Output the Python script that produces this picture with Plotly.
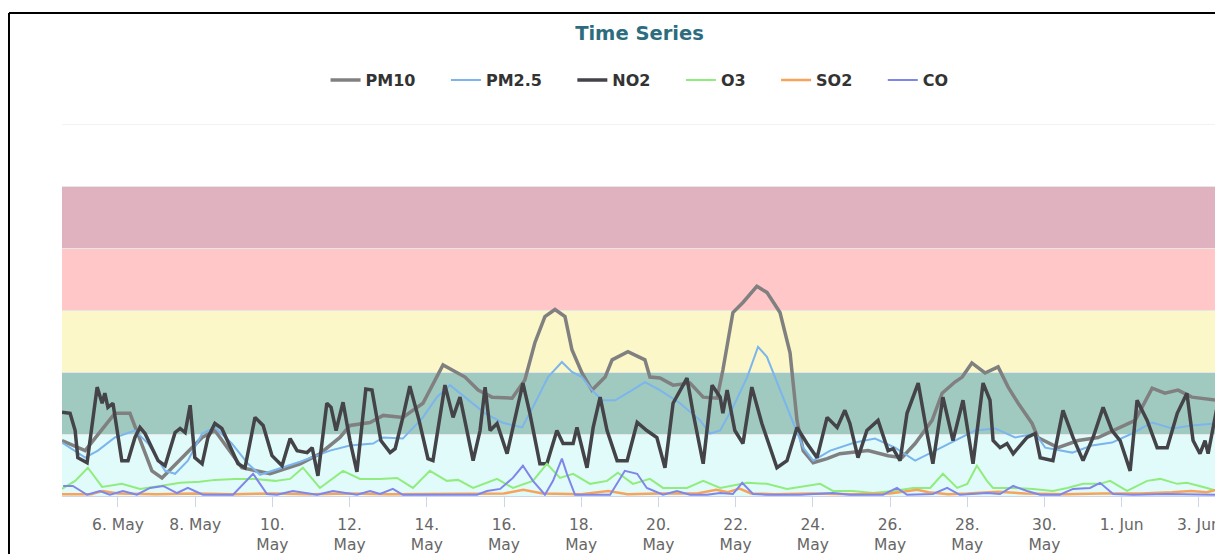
import pandas as pd
import plotly.graph_objects as go

# ---- data (time as decimal day-of-May; 32 = 1 Jun) ----
PM10_days = [4.55, 5.15, 5.92, 6.31, 6.88, 7.14, 8.18, 8.51, 9.21, 9.94, 10.72, 11.23, 11.75, 12.01, 12.53,
             12.87, 13.38, 13.90, 14.42, 14.99, 15.33, 15.69, 16.21, 16.54, 16.80, 17.06, 17.32, 17.58, 17.76,
             18.02, 18.28, 18.62, 18.80, 19.21, 19.65, 19.78, 20.04, 20.38, 20.82, 21.16, 21.52, 21.67, 21.93,
             22.19, 22.55, 22.81, 23.15, 23.41, 23.59, 23.75, 24.01, 24.37, 24.70, 25.43, 25.95, 26.31, 26.65,
             27.09, 27.35, 27.68, 27.87, 28.12, 28.46, 28.80, 29.06, 29.32, 29.68, 29.83, 30.35, 30.87, 31.39,
             31.91, 32.35, 32.79, 33.12, 33.46, 33.82, 34.47]
PM10_vals = [44.7, 36.6, 66.7, 66.7, 20.3, 14.6, 47.2, 52.8, 22.8, 17.9, 26.0, 34.1, 47.2, 56.9, 59.3,
             65.0, 63.4, 74.8, 105.7, 95.9, 85.4, 79.7, 78.9, 93.5, 123.6, 144.7, 150.4, 144.7, 117.9,
             99.2, 85.4, 95.9, 109.8, 116.3, 109.8, 95.9, 95.1, 89.4, 91.1, 79.7, 78.9, 101.6, 148.0,
             156.1, 169.1, 164.2, 148.0, 115.4, 61.0, 36.6, 26.8, 30.1, 34.1, 36.6, 32.5, 30.9, 42.3,
             61.0, 82.9, 91.9, 95.9, 107.3, 99.2, 104.1, 87.8, 74.8, 58.5, 47.2, 39.0, 44.7, 47.2,
             54.5, 61.0, 87.0, 82.9, 85.4, 79.7, 77.2]

PM25_days = [4.55, 5.15, 5.48, 5.92, 6.44, 6.78, 7.22, 7.48, 7.81, 8.18, 8.51, 8.95, 9.37, 9.68, 10.72,
             11.49, 12.01, 12.61, 12.87, 13.38, 13.90, 14.26, 14.60, 14.99, 15.51, 15.95, 16.47, 16.80,
             17.14, 17.50, 17.76, 18.02, 18.28, 18.54, 18.88, 19.32, 19.65, 20.04, 20.56, 21.08, 21.34,
             21.60, 21.93, 22.30, 22.58, 22.81, 23.15, 23.49, 23.75, 24.01, 24.45, 25.09, 25.61, 26.13,
             26.65, 27.17, 27.68, 28.20, 28.72, 29.24, 29.76, 30.02, 30.72, 31.23, 31.75, 32.27, 32.79,
             33.31, 33.82, 34.47]
PM25_vals = [43.1, 30.9, 36.6, 47.2, 52.8, 42.3, 20.3, 17.9, 28.5, 50.4, 55.3, 42.3, 26.0, 17.1, 27.6,
             36.6, 40.7, 42.3, 47.2, 46.3, 63.4, 79.7, 89.4, 79.7, 66.7, 59.3, 55.3, 74.8,
             95.9, 108.1, 100.0, 95.9, 85.4, 77.2, 77.2, 85.4, 91.9, 85.4, 74.8, 61.0, 50.4,
             52.8, 71.5, 95.9, 120.3, 112.2, 85.4, 58.5, 39.0, 28.5, 36.6, 43.1, 46.3, 39.0,
             28.5, 36.6, 44.7, 52.8, 54.5, 47.2, 50.4, 39.0, 35.0, 40.7, 43.1, 50.4, 59.3,
             54.5, 56.9, 58.5]

NO2_days = [4.55, 4.76, 4.89, 4.96, 5.20, 5.33, 5.46, 5.59, 5.66, 5.74, 5.87, 6.10, 6.26, 6.44, 6.57, 6.70,
            7.04, 7.22, 7.40, 7.48, 7.61, 7.74, 7.87, 7.99, 8.18, 8.33, 8.51, 8.69, 9.11, 9.29, 9.55, 9.76,
            9.99, 10.25, 10.46, 10.64, 10.90, 11.03, 11.18, 11.41, 11.52, 11.65, 11.83, 12.01, 12.19, 12.42,
            12.58, 12.81, 13.05, 13.18, 13.38, 13.56, 13.80, 14.03, 14.16, 14.47, 14.68, 14.86, 15.04, 15.20,
            15.38, 15.51, 15.64, 15.82, 16.08, 16.23, 16.49, 16.67, 16.93, 17.11, 17.37, 17.53, 17.79, 17.89,
            18.15, 18.31, 18.49, 18.67, 18.93, 19.19, 19.45, 19.70, 19.96, 20.17, 20.38, 20.74, 20.90, 21.16,
            21.39, 21.60, 21.67, 21.78, 21.98, 22.19, 22.42, 22.68, 23.07, 23.33, 23.59, 23.85, 24.11, 24.37,
            24.63, 24.83, 24.96, 25.17, 25.40, 25.69, 25.95, 26.08, 26.26, 26.44, 26.73, 26.96, 27.11, 27.37,
            27.63, 27.89, 28.15, 28.41, 28.59, 28.67, 28.85, 29.03, 29.19, 29.55, 29.76, 29.89, 30.22, 30.48,
            30.74, 31.00, 31.26, 31.52, 31.75, 31.96, 32.22, 32.40, 32.66, 32.92, 33.18, 33.44, 33.69, 33.85,
            34.03, 34.16, 34.24, 34.47]
NO2_vals = [67.5, 66.7, 52.8, 30.9, 26.8, 55.3, 87.8, 74.8, 82.9, 71.5, 74.8, 28.5, 28.5, 47.2, 55.3, 50.4,
            28.5, 24.4, 42.3, 51.2, 54.5, 51.2, 73.2, 30.9, 26.0, 47.2, 58.5, 54.5, 26.0, 22.8, 63.4, 56.9,
            32.5, 24.4, 46.3, 36.6, 35.0, 39.0, 16.3, 74.8, 71.5, 52.8, 75.6, 44.7, 19.5, 86.2,
            85.4, 44.7, 35.0, 38.2, 63.4, 88.6, 61.0, 30.1, 28.5, 89.4, 63.4, 79.7, 52.8, 28.5,
            52.8, 87.8, 52.8, 58.5, 34.1, 55.3, 91.1, 66.7, 26.0, 26.0, 52.8, 42.3, 42.3, 55.3,
            22.8, 55.3, 79.7, 52.8, 28.5, 28.5, 59.3, 52.8, 47.2, 22.8, 74.8, 95.1, 66.7, 26.0,
            89.4, 79.7, 66.7, 85.4, 52.8, 42.3, 87.8, 58.5, 22.8, 28.5, 55.3, 42.3, 30.9, 63.4,
            55.3, 69.1, 58.5, 30.9, 52.8, 61.0, 36.6, 38.2, 28.5, 66.7, 91.1, 50.4, 26.0, 79.7,
            44.7, 77.2, 26.0, 91.1, 77.2, 44.7, 39.0, 42.3, 34.1, 47.2, 50.4, 30.9, 28.5, 69.1,
            47.2, 28.5, 47.2, 71.5, 52.8, 44.7, 20.3, 77.2, 61.0, 39.0, 39.0, 66.7, 82.9, 44.7,
            34.1, 44.7, 34.1, 71.5]

O3_days = [4.55, 4.89, 5.22, 5.59, 6.10, 6.57, 7.09, 7.61, 8.12, 8.51, 9.03, 9.55, 10.07, 10.46, 10.79,
           11.23, 11.83, 12.27, 12.79, 13.23, 13.64, 14.08, 14.52, 14.81, 15.20, 15.82, 16.23, 16.75, 17.11,
           17.45, 17.79, 18.23, 18.67, 18.95, 19.34, 19.78, 20.12, 20.74, 21.16, 21.60, 22.30, 22.81, 23.33,
           23.85, 24.19, 24.52, 25.04, 25.56, 26.08, 26.60, 27.04, 27.37, 27.74, 28.00, 28.25, 28.51, 28.67,
           29.19, 29.70, 30.22, 30.59, 31.00, 31.44, 31.70, 32.14, 32.66, 33.00, 33.44, 33.69, 34.21, 34.47]
O3_vals = [5.7, 12.2, 22.8, 7.3, 9.8, 5.7, 8.1, 10.6, 11.4, 13.0, 13.8, 13.8, 12.2, 13.8, 22.8,
           6.5, 20.3, 13.8, 13.8, 14.6, 6.5, 20.3, 12.2, 13.0, 6.5, 13.8, 6.5, 12.2, 26.0,
           14.6, 17.9, 9.8, 12.2, 18.7, 9.8, 13.8, 6.5, 6.5, 12.2, 6.5, 10.6, 9.8, 5.7,
           8.1, 9.8, 4.1, 4.1, 2.4, 4.1, 6.5, 6.5, 17.9, 6.5, 9.8, 24.4, 12.2, 6.5,
           6.5, 5.7, 4.1, 6.5, 9.8, 9.8, 12.2, 4.1, 12.2, 13.8, 9.8, 10.6, 6.5, 4.1]

SO2_days = [4.55, 5.3, 5.6, 6.0, 7.0, 8.0, 9.0, 10.0, 11.0, 12.0, 13.0, 14.0, 15.0, 16.0, 16.5, 17.0, 18.0,
            18.7, 19.2, 20.0, 21.0, 21.5, 21.8, 22.1, 22.4, 23.0, 24.0, 25.0, 26.0, 26.7, 27.0, 27.5, 28.0,
            28.8, 29.5, 30.5, 31.5, 32.5, 33.3, 33.8, 34.2, 34.47]
SO2_vals = [1.5, 1.5, 4.0, 2.0, 1.5, 2.0, 1.5, 2.0, 1.5, 2.0, 1.5, 1.5, 2.0, 2.0, 5.0, 2.0, 1.5,
            4.0, 1.5, 2.0, 2.0, 5.0, 3.0, 6.0, 2.0, 1.5, 2.0, 1.5, 2.0, 5.0, 3.0, 1.5, 2.0,
            3.5, 2.0, 1.5, 2.0, 2.0, 3.0, 4.0, 3.0, 5.0]

CO_days = [4.58, 4.83, 5.20, 5.53, 5.79, 6.13, 6.49, 6.83, 7.17, 7.53, 7.81, 8.20, 8.98, 9.50, 9.86, 10.12,
           10.53, 11.16, 11.57, 12.19, 12.53, 12.79, 13.12, 13.38, 15.30, 15.56, 15.90, 16.23, 16.49, 16.75,
           17.06, 17.27, 17.50, 17.63, 17.84, 18.75, 19.13, 19.45, 19.70, 20.12, 20.48, 20.82, 21.26, 21.60,
           21.93, 22.17, 22.45, 22.81, 23.67, 24.52, 24.96, 25.82, 26.18, 26.44, 27.11, 27.48, 27.81, 28.51,
           28.85, 29.19, 29.55, 29.89, 30.40, 30.74, 31.18, 31.44, 31.78, 32.30, 33.18, 34.47]
CO_vals = [8.1, 8.1, 1.0, 4.0, 1.0, 4.0, 1.0, 6.5, 8.1, 2.4, 6.5, 1.0, 1.0, 17.9, 1.6, 1.0,
           4.0, 1.0, 4.0, 1.0, 4.0, 1.6, 5.7, 1.0, 1.0, 4.0, 5.7, 14.6, 24.4, 12.2,
           1.0, 12.2, 30.1, 17.9, 1.0, 1.0, 20.3, 17.9, 6.5, 1.0, 4.0, 1.0, 1.0, 2.4,
           1.6, 10.6, 1.6, 1.0, 1.0, 2.4, 1.0, 1.0, 6.5, 1.0, 1.6, 6.5, 1.0, 2.4,
           1.6, 8.1, 4.0, 1.0, 1.0, 5.7, 6.5, 10.6, 1.6, 1.0, 1.6, 1.0]

tick_days = [6, 8, 10, 12, 14, 16, 18, 20, 22, 24, 26, 28, 30, 32, 34]
tick_labels = ["6. May", "8. May", "10.<br>May", "12.<br>May", "14.<br>May", "16.<br>May", "18.<br>May",
               "20.<br>May", "22.<br>May", "24.<br>May", "26.<br>May", "28.<br>May", "30.<br>May",
               "1. Jun", "3. Jun"]

band_edges = [0, 50, 100, 150, 200, 250]
band_colors = ["#e1fbfb", "#a0cac0", "#fbf7c9", "#ffc7c7", "#e0b1be"]
Y_MAX = 300

BASE = pd.Timestamp("2021-04-30")


def to_time(days):
    return BASE + pd.to_timedelta(pd.Series(days, dtype=float), unit="D")


series = [
    ("PM10", PM10_days, PM10_vals, "#808080", 3.5),
    ("PM2.5", PM25_days, PM25_vals, "#7cb5ec", 2),
    ("NO2", NO2_days, NO2_vals, "#434348", 3.5),
    ("O3", O3_days, O3_vals, "#90ed7d", 2),
    ("SO2", SO2_days, SO2_vals, "#f7a35c", 2.5),
    ("CO", CO_days, CO_vals, "#8085e9", 2),
]

PAD = "\u00a0" * 5

fig = go.Figure()
for name, d, v, color, w in series:
    fig.add_trace(go.Scatter(x=to_time(d), y=v, name="<b>" + name + "</b>" + PAD, mode="lines",
                             line=dict(color=color, width=w)))

for i, c in enumerate(band_colors):
    fig.add_shape(type="rect", xref="paper", yref="y", x0=0, x1=1,
                  y0=band_edges[i], y1=band_edges[i + 1], fillcolor=c,
                  line=dict(width=0), layer="below")

# top grid line
fig.add_shape(type="line", xref="paper", yref="y", x0=0, x1=1, y0=Y_MAX, y1=Y_MAX,
              line=dict(color="#e6e6e6", width=1), layer="below")

# outer frame lines (top and left)
fig.add_shape(type="line", xref="paper", yref="paper", x0=-0.0459, x1=1.01, y0=1.2984, y1=1.2984,
              line=dict(color="black", width=2))
fig.add_shape(type="line", xref="paper", yref="paper", x0=-0.0459, x1=-0.0459, y0=1.2984, y1=-0.2,
              line=dict(color="black", width=2))

fig.update_layout(
    width=1215, height=546, autosize=False,
    margin=dict(l=54, r=6, t=116, b=58),
    paper_bgcolor="white", plot_bgcolor="white",
    font=dict(family="DejaVu Sans", color="#666666"),
    title=dict(text="<b>Time Series</b>", x=0.5, xref="paper", xanchor="center",
               y=1 - 25 / 546, yanchor="middle",
               font=dict(size=19.5, color="#2c6c7e", family="DejaVu Sans")),
    legend=dict(orientation="h", x=0.5113, xanchor="center", y=1.118, yanchor="middle",
                font=dict(size=16, color="#333333", family="DejaVu Sans"),
                itemwidth=30, bgcolor="rgba(0,0,0,0)"),
    showlegend=True,
    hovermode="x",
)
fig.update_xaxes(range=[BASE + pd.Timedelta(days=4.55), BASE + pd.Timedelta(days=34.47)],
                 tickvals=list(to_time(tick_days)), ticktext=tick_labels,
                 ticks="outside", ticklen=10, tickcolor="#ccd6eb", tickwidth=1,
                 ticklabelstandoff=4, automargin=False,
                 showline=True, linecolor="#ccd6eb", showgrid=False,
                 tickfont=dict(size=15.5, color="#666666"))
fig.update_yaxes(range=[0, Y_MAX], dtick=50, showticklabels=False, showgrid=True,
                 gridcolor="#e6e6e6", gridwidth=1, zeroline=False, showline=False,
                 automargin=False)

fig.write_html("out.html")
